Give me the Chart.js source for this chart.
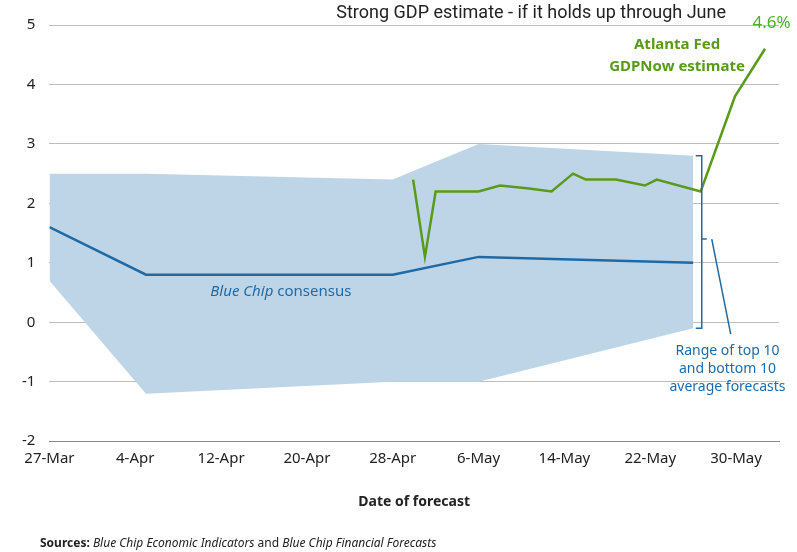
<!DOCTYPE html>
<html>
<head>
<meta charset="utf-8">
<script src="https://cdn.jsdelivr.net/npm/chart.js@4/dist/chart.umd.min.js"></script>
<style>
  html, body { margin: 0; padding: 0; background: #fff; }
  #wrap { width: 797px; height: 552px; position: relative; }
</style>
</head>
<body>
<div id="wrap"><canvas id="c"></canvas></div>
<script>
// days counted from 27-Mar
const tickDays = [0, 8, 16, 24, 32, 40, 48, 56, 64];
const tickLabels = ['27-Mar', '4-Apr', '12-Apr', '20-Apr', '28-Apr', '6-May', '14-May', '22-May', '30-May'];

const consensusDays = [0, 9, 32, 40, 60];
const consensusVals = [1.6, 0.8, 0.8, 1.1, 1.0];

const rangeDays = [0, 9, 32, 40, 60];
const rangeTop = [2.5, 2.5, 2.4, 3.0, 2.8];
const rangeBottom = [0.7, -1.2, -1.0, -1.0, -0.1];

const nowDays = [33.9, 35, 36, 40, 42, 44.7, 46.8, 48.8, 50, 52.8, 55.5, 56.6, 60.7, 63.9, 66.7];
const nowVals = [2.4, 1.1, 2.2, 2.2, 2.3, 2.25, 2.2, 2.5, 2.4, 2.4, 2.3, 2.4, 2.2, 3.8, 4.6];

const pts = (xs, ys) => xs.map((x, i) => ({ x: x, y: ys[i] }));

const BLUE = '#1f6aa5';
const GREEN = '#5a9a1a';

const annotations = {
  id: 'annotations',
  afterDraw(chart) {
    const { ctx, scales: { x, y } } = chart;
    ctx.save();
    // bracket for range
    const bx = x.getPixelForValue(60.8);
    const yt = y.getPixelForValue(2.8), yb = y.getPixelForValue(-0.1), ym = y.getPixelForValue(1.4);
    ctx.strokeStyle = BLUE; ctx.lineWidth = 1.5;
    ctx.beginPath();
    ctx.moveTo(bx - 6, yt); ctx.lineTo(bx, yt); ctx.lineTo(bx, yb); ctx.lineTo(bx - 6, yb);
    ctx.moveTo(bx, ym); ctx.lineTo(bx + 5, ym);
    ctx.moveTo(bx + 10, ym); ctx.lineTo(x.getPixelForValue(63.5), y.getPixelForValue(-0.2));
    ctx.stroke();
    // texts
    ctx.fillStyle = BLUE;
    ctx.font = '14px "Noto Sans"';
    ctx.textAlign = 'center';
    const cx = x.getPixelForValue(63.2);
    ctx.fillText('Range of top 10', cx, y.getPixelForValue(-0.55));
    ctx.fillText('and bottom 10', cx, y.getPixelForValue(-0.85));
    ctx.fillText('average forecasts', cx, y.getPixelForValue(-1.15));
    ctx.textAlign = 'left';
    ctx.font = 'italic 15px "Noto Sans"';
    const lx = x.getPixelForValue(15), ly = y.getPixelForValue(0.45);
    ctx.fillText('Blue Chip', lx, ly);
    const w = ctx.measureText('Blue Chip ').width;
    ctx.font = '15px "Noto Sans"';
    ctx.fillText('consensus', lx + w, ly);
    ctx.fillStyle = GREEN;
    ctx.font = 'bold 15px "Noto Sans"';
    ctx.textAlign = 'center';
    ctx.fillText('Atlanta Fed', x.getPixelForValue(58.5), y.getPixelForValue(4.6));
    ctx.fillText('GDPNow estimate', x.getPixelForValue(58.5), y.getPixelForValue(4.23));
    ctx.font = '17px "Noto Sans"';
    ctx.fillStyle = '#4caf2a';
    ctx.fillText('4.6%', x.getPixelForValue(67.3), y.getPixelForValue(4.95));
    ctx.fillStyle = '#222';
    ctx.font = '18px Roboto';
    ctx.textAlign = 'right';
    ctx.fillText('Strong GDP estimate - if it holds up through June', 726, 18);
    ctx.textAlign = 'left';
    ctx.font = 'bold 12px "Noto Sans"';
    ctx.fillText('Sources:', 40, 547);
    let sx = 40 + ctx.measureText('Sources: ').width;
    const parts = [['italic', 'Blue Chip Economic Indicators'], ['', ' and '], ['italic', 'Blue Chip Financial Forecasts']];
    parts.forEach(p => {
      ctx.font = (p[0] ? 'italic ' : '') + '12px "Noto Sans"';
      ctx.fillText(p[1], sx, 547);
      sx += ctx.measureText(p[1]).width;
    });
    ctx.restore();
  }
};

new Chart(document.getElementById('c'), {
  type: 'line',
  data: {
    datasets: [{
      label: 'Top',
      data: pts(rangeDays, rangeTop),
      borderWidth: 0,
      pointRadius: 0,
      backgroundColor: 'rgba(190,213,232,1)',
      fill: '+1',
      order: 5
    }, {
      label: 'Bottom',
      data: pts(rangeDays, rangeBottom),
      borderWidth: 0,
      pointRadius: 0,
      fill: false,
      order: 6
    }, {
      label: 'Blue Chip consensus',
      data: pts(consensusDays, consensusVals),
      borderColor: BLUE,
      borderWidth: 2.5,
      pointRadius: 0,
      fill: false,
      order: 1
    }, {
      label: 'GDPNow',
      data: pts(nowDays, nowVals),
      borderColor: GREEN,
      borderWidth: 2.5,
      pointRadius: 0,
      fill: false,
      order: 0
    }]
  },
  options: {
    responsive: true,
    maintainAspectRatio: false,
    animation: false,
    layout: { padding: { top: 25, right: 18, left: 8, bottom: 38 } },
    plugins: { legend: { display: false }, tooltip: { enabled: false } },
    scales: {
      x: {
        type: 'linear',
        min: 0,
        max: 68,
        afterBuildTicks: axis => { axis.ticks = tickDays.map(v => ({ value: v })); },
        ticks: {
          callback: v => tickLabels[tickDays.indexOf(v)],
          color: '#222',
          font: { size: 15, family: '"Noto Sans"' },
          maxRotation: 0,
          autoSkip: false
        },
        grid: { display: false, drawTicks: true, tickLength: 6, color: '#888' },
        border: { color: '#888' },
        title: { display: true, text: 'Date of forecast', color: '#222', font: { size: 14, weight: 'bold', family: '"Noto Sans"' }, padding: { top: 22 } }
      },
      y: {
        min: -2,
        max: 5,
        ticks: { stepSize: 1, color: '#222', font: { size: 15, family: '"Noto Sans"' }, padding: 14 },
        grid: { color: '#bdbdbd', drawTicks: false },
        border: { display: false }
      }
    }
  },
  plugins: [annotations]
});
</script>
</body>
</html>
